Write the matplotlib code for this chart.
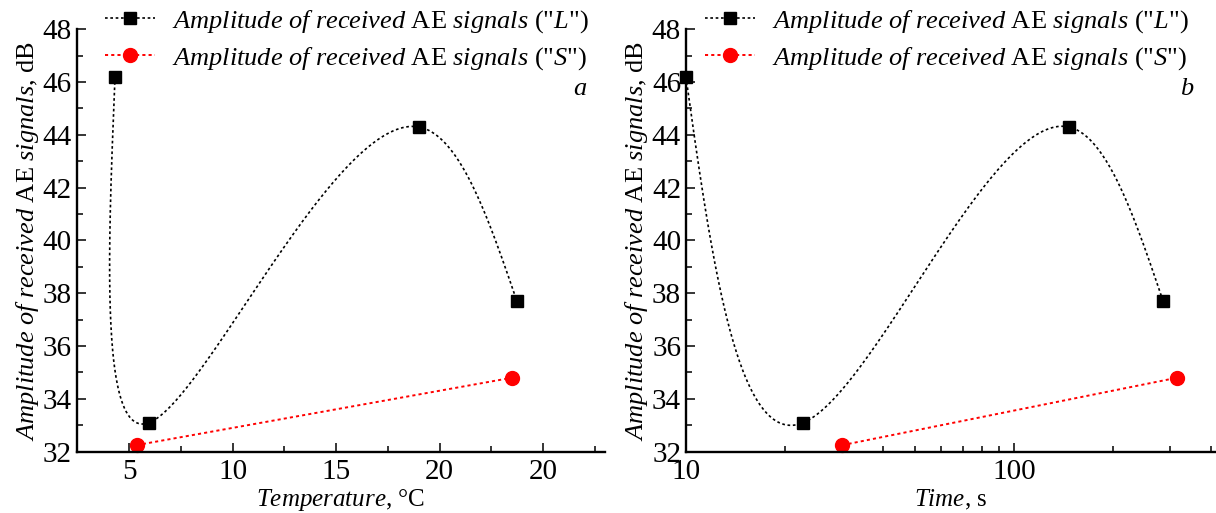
import numpy as np
import matplotlib
matplotlib.use('Agg')
import matplotlib.pyplot as plt
from matplotlib.lines import Line2D
from matplotlib.ticker import FixedLocator, FixedFormatter, MultipleLocator, LogLocator, NullFormatter

plt.rcParams['font.family'] = ['Liberation Serif', 'DejaVu Serif']
plt.rcParams['mathtext.fontset'] = 'custom'
plt.rcParams['mathtext.rm'] = 'Liberation Serif'
plt.rcParams['mathtext.it'] = 'Liberation Serif:italic'
plt.rcParams['mathtext.bf'] = 'Liberation Serif:bold'

# data
amp_L = [46.2, 33.1, 44.3, 37.7]
amp_S = [32.25, 34.8]
temp_L = [4.32, 5.97, 19.0, 23.74]
temp_S = [5.37, 23.49]
time_L = [10, 22.8, 147, 285]
time_S = [30, 314]
temp_ticks = [5, 10, 15, 20, 25]
temp_ticklabels = ['5', '10', '15', '20', '20']


def nat_coeffs(t, y):
    k = len(t)
    h = np.diff(t)
    A = np.zeros((k, k)); b = np.zeros(k)
    A[0, 0] = 1; A[-1, -1] = 1
    for i in range(1, k - 1):
        A[i, i - 1] = h[i - 1]
        A[i, i] = 2 * (h[i - 1] + h[i])
        A[i, i + 1] = h[i]
        b[i] = 6 * ((y[i + 1] - y[i]) / h[i] - (y[i] - y[i - 1]) / h[i - 1])
    return np.linalg.solve(A, b)


def eval_spline(t, y, M, ts):
    k = len(t)
    idx = np.clip(np.searchsorted(t, ts) - 1, 0, k - 2)
    t0, t1 = t[idx], t[idx + 1]
    hh = t1 - t0
    a = t1 - ts; c = ts - t0
    return (M[idx] * a**3 + M[idx + 1] * c**3) / (6 * hh) \
        + (y[idx] / hh - M[idx] * hh / 6) * a \
        + (y[idx + 1] / hh - M[idx + 1] * hh / 6) * c


def screen_spline(ax, x, y, n=400):
    # parametric spline drawn in screen space, like the original connector
    pts = ax.transData.transform(np.column_stack([x, y]))
    d = np.hypot(*np.diff(pts, axis=0).T)
    t = np.concatenate([[0], np.cumsum(d)])
    ts = np.linspace(0, t[-1], n)
    px = eval_spline(t, pts[:, 0], nat_coeffs(t, pts[:, 0]), ts)
    py = eval_spline(t, pts[:, 1], nat_coeffs(t, pts[:, 1]), ts)
    out = ax.transData.inverted().transform(np.column_stack([px, py]))
    return out[:, 0], out[:, 1]


fig = plt.figure(figsize=(12.16, 5.13), dpi=100)
ax1 = fig.add_axes([0.0631, 0.1195, 0.4345, 0.8234])
ax2 = fig.add_axes([0.5641, 0.1195, 0.435, 0.8234])

dash = (0, (1.6, 1.6))
lab_L = r'$\it{Amplitude\ of\ received}$ AE $\it{signals}$ ("$\it{L}$")'
lab_S = r'$\it{Amplitude\ of\ received}$ AE $\it{signals}$ ("$\it{S}$")'
ylab = r'$\it{Amplitude\ of\ received}$ AE $\it{signals}$, dB'

for ax in (ax1, ax2):
    ax.set_ylim(32, 48)
ax1.set_xlim(2.47, 28)
ax2.set_xscale('log')
ax2.set_xlim(10, 410)

# left: temperature
xs, ys = screen_spline(ax1, temp_L, amp_L)
ax1.plot(xs, ys, color='black', ls=dash, lw=1.2)
ax1.plot(temp_L, amp_L, 's', color='black', ms=9, clip_on=False)
ax1.plot(temp_S, amp_S, color='red', ls=dash, lw=1.4)
ax1.plot(temp_S, amp_S, 'o', color='red', ms=10, clip_on=False)
ax1.xaxis.set_major_locator(FixedLocator(temp_ticks))
ax1.xaxis.set_major_formatter(FixedFormatter(temp_ticklabels))
ax1.xaxis.set_minor_locator(MultipleLocator(2.5))
ax1.set_xlabel(r'$\it{Temperature}$, °C', fontsize=18, labelpad=2)
ax1.text(0.94, 0.845, 'a', transform=ax1.transAxes, fontsize=19, style='italic')

# right: time (log)
xs2, ys2 = screen_spline(ax2, time_L, amp_L)
ax2.plot(xs2, ys2, color='black', ls=dash, lw=1.2)
ax2.plot(time_L, amp_L, 's', color='black', ms=9, clip_on=False)
ax2.plot(time_S, amp_S, color='red', ls=dash, lw=1.4)
ax2.plot(time_S, amp_S, 'o', color='red', ms=10, clip_on=False)
ax2.xaxis.set_major_locator(FixedLocator([10, 100]))
ax2.xaxis.set_major_formatter(FixedFormatter(['10', '100']))
ax2.xaxis.set_minor_locator(LogLocator(base=10, subs=np.arange(2, 10)))
ax2.xaxis.set_minor_formatter(NullFormatter())
ax2.set_xlabel(r'$\it{Time}$, s', fontsize=18, labelpad=2)
ax2.text(0.934, 0.845, 'b', transform=ax2.transAxes, fontsize=19, style='italic')

handles = [
    Line2D([], [], color='black', ls=dash, lw=1.2, marker='s', ms=9),
    Line2D([], [], color='red', ls=dash, lw=1.4, marker='o', ms=10),
]

for ax, lx in [(ax1, 0.0863), (ax2, 0.58)]:
    ax.yaxis.set_major_locator(MultipleLocator(2))
    ax.yaxis.set_minor_locator(MultipleLocator(1))
    ax.set_ylabel(ylab, fontsize=19, labelpad=1)
    for s in ['top', 'right']:
        ax.spines[s].set_visible(False)
    for s in ['left', 'bottom']:
        ax.spines[s].set_linewidth(1.7)
    ax.tick_params(which='major', direction='in', length=6.5, width=1.1, labelsize=21)
    ax.tick_params(axis='x', which='major', pad=5)
    ax.tick_params(which='minor', direction='in', length=4, width=1.1)
    ax.legend(handles, [lab_L, lab_S], loc='upper left', bbox_to_anchor=(lx, 0.985),
              bbox_transform=fig.transFigure, frameon=False, fontsize=19,
              borderpad=0, borderaxespad=0, handlelength=1.9, handletextpad=0.64,
              labelspacing=0.4, numpoints=1)

fig.savefig('out.png', dpi=100)
